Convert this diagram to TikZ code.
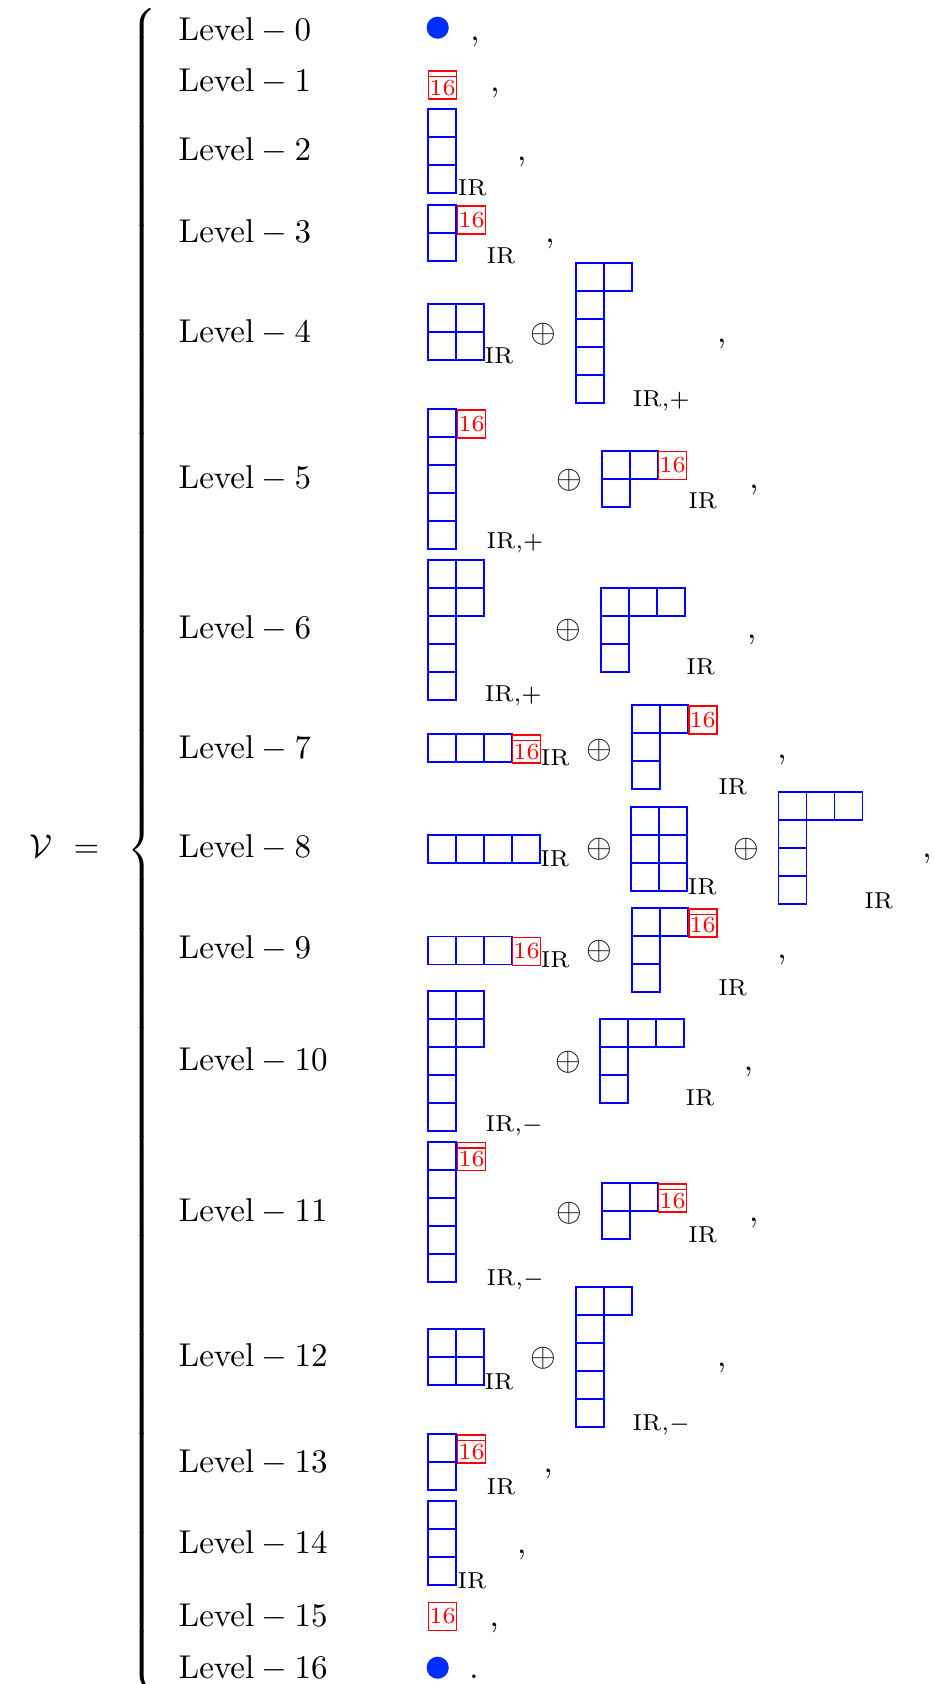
\documentclass[tikz,border=0pt]{standalone}
\usepackage{xcolor}
\usepackage{amsmath}
\usetikzlibrary{positioning}

\definecolor{dotblue}{RGB}{0,45,255}

% young diagram: top-left x, top-left y, row lengths
\newcommand\ydiag[3]{%
  \foreach \rowlen [count=\rowno from 0] in {#3}{%
    \foreach \colno in {1,...,\rowlen}{%
      \draw[ybox] ({#1+28*(\colno-1)},{#2+28*\rowno}) rectangle ++(28,28);
    }
  }
}

\begin{document}
\begin{tikzpicture}[
  x=0.303pt, y=-0.303pt,
  lvl/.style={anchor=base west, inner sep=0},
  punct/.style={anchor=base, inner sep=0},
  ybox/.style={draw=blue, line width=0.5pt},
  rbox/.style={draw=red, text=red, line width=0.5pt, font=\scriptsize,
    minimum size=8.48pt, inner sep=0, anchor=north west},
  irlab/.style={anchor=base west, inner sep=0, font=\scriptsize},
  osum/.style={anchor=base, inner sep=0},
  dot/.style={circle, fill=dotblue, minimum size=6.7pt, inner sep=0}
]
\useasboundingbox (0,0) rectangle (933,1684);

\node[lvl] (calV) at (29,857) {$\mathcal{V}$};
\node[lvl] (eq) at (73,857) {$=$};
\node[lvl] (brace) at (127,858) {$\left\{\vrule height 253pt depth 253pt width 0pt\right.$};

\foreach \k/\yb in {0/40, 1/91.7, 2/160, 3/242, 4/342, 5/488, 6/638, 7/758,
    8/857, 9/958, 10/1070, 11/1221, 12/1366, 13/1472, 14/1553, 15/1626.7, 16/1678.3}
  \node[lvl] (lev\k) at (178,\yb) {$\mathrm{Level}-\k$};

\foreach \k/\xc/\yb in {0/475/40, 1/495/91.7, 2/521.7/160, 3/550/242, 4/721.7/342,
    5/754/488, 6/751.6/638, 7/782/758, 8/927/857, 9/782/958, 10/748.4/1070,
    11/753.8/1221, 12/721.7/1366, 13/548.3/1472, 14/521.7/1553, 15/494.3/1626.7}
  \node[punct] (c\k) at (\xc,\yb) {,};
\node[punct] (c16) at (474,1678.3) {.};

% singlets
\node[dot] (d0) at (437.7,27.7) {};
\node[dot] (d16) at (437.7,1667.7) {};

% tableaux
\ydiag{427.7}{109}{1,1,1}
\ydiag{427.7}{205}{1,1}
\ydiag{427.7}{304.3}{2,2}
\ydiag{575.7}{262.7}{2,1,1,1,1}
\ydiag{427.7}{409}{1,1,1,1,1}
\ydiag{601.7}{450.7}{2,1}
\ydiag{427.7}{560}{2,2,1,1,1}
\ydiag{600.7}{587.7}{3,1,1}
\ydiag{427.7}{734}{3}
\ydiag{631.9}{705.1}{2,1,1}
\ydiag{427.7}{835}{4}
\ydiag{630.9}{807.1}{2,2,2}
\ydiag{778.6}{792.3}{3,1,1,1}
\ydiag{427.7}{936.6}{3}
\ydiag{631.9}{907.9}{2,1,1}
\ydiag{427.7}{990.7}{2,2,1,1,1}
\ydiag{600}{1019}{3,1,1}
\ydiag{427.7}{1141.7}{1,1,1,1,1}
\ydiag{601.7}{1183.3}{2,1}
\ydiag{427.7}{1329.3}{2,2}
\ydiag{575.7}{1287.3}{2,1,1,1,1}
\ydiag{427.7}{1434}{1,1}
\ydiag{427.7}{1501}{1,1,1}

% spinor boxes
\node[rbox] (r1) at (427.7,70) {$\overline{16}$};
\node[rbox] (r3) at (456.7,205) {16};
\node[rbox] (r5a) at (456.7,409) {16};
\node[rbox] (r5b) at (657.7,450.7) {16};
\node[rbox] (r7a) at (511.7,734) {$\overline{16}$};
\node[rbox] (r7b) at (687.9,705.1) {16};
\node[rbox] (r9a) at (511.7,936.6) {16};
\node[rbox] (r9b) at (687.9,907.9) {$\overline{16}$};
\node[rbox] (r11a) at (456.7,1141.7) {$\overline{16}$};
\node[rbox] (r11b) at (657.7,1183.3) {$\overline{16}$};
\node[rbox] (r13) at (456.7,1434) {$\overline{16}$};
\node[rbox] (r15) at (427.7,1601.7) {16};

% direct sums
\node[osum] (o4) at (543.3,342) {$\oplus$};
\node[osum] (o5) at (569.3,488) {$\oplus$};
\node[osum] (o6) at (568.3,638) {$\oplus$};
\node[osum] (o7) at (599.4,758) {$\oplus$};
\node[osum] (o8a) at (599.4,857.7) {$\oplus$};
\node[osum] (o8b) at (746.5,857.7) {$\oplus$};
\node[osum] (o9) at (599.4,959.4) {$\oplus$};
\node[osum] (o10) at (568.3,1070) {$\oplus$};
\node[osum] (o11) at (569.3,1221) {$\oplus$};
\node[osum] (o12) at (543.3,1366) {$\oplus$};

% subscripts
\node[irlab] (s2) at (457.3,195) {$\mathrm{IR}$};
\node[irlab] (s3) at (486,263) {$\mathrm{IR}$};
\node[irlab] (s4a) at (484,363) {$\mathrm{IR}$};
\node[irlab] (s4b) at (632.3,406) {$\mathrm{IR}{,}+$};
\node[irlab] (s5a) at (486,548) {$\mathrm{IR}{,}+$};
\node[irlab] (s5b) at (687.7,508) {$\mathrm{IR}$};
\node[irlab] (s6a) at (484.3,701.5) {$\mathrm{IR}{,}+$};
\node[irlab] (s6b) at (685.7,674) {$\mathrm{IR}$};
\node[irlab] (s7a) at (540.3,765) {$\mathrm{IR}$};
\node[irlab] (s7b) at (717.7,794) {$\mathrm{IR}$};
\node[irlab] (s8a) at (539.6,866) {$\mathrm{IR}$};
\node[irlab] (s8b) at (687.3,894.4) {$\mathrm{IR}$};
\node[irlab] (s8c) at (863.8,908.6) {$\mathrm{IR}$};
\node[irlab] (s9a) at (540.3,967) {$\mathrm{IR}$};
\node[irlab] (s9b) at (717.7,995.8) {$\mathrm{IR}$};
\node[irlab] (s10a) at (485,1131.7) {$\mathrm{IR}{,}-$};
\node[irlab] (s10b) at (685,1105) {$\mathrm{IR}$};
\node[irlab] (s11a) at (486,1285) {$\mathrm{IR}{,}-$};
\node[irlab] (s11b) at (687.7,1242.7) {$\mathrm{IR}$};
\node[irlab] (s12a) at (484,1389) {$\mathrm{IR}$};
\node[irlab] (s12b) at (632,1430) {$\mathrm{IR}{,}-$};
\node[irlab] (s13) at (486,1494) {$\mathrm{IR}$};
\node[irlab] (s14) at (457,1588) {$\mathrm{IR}$};

\end{tikzpicture}
\end{document}
